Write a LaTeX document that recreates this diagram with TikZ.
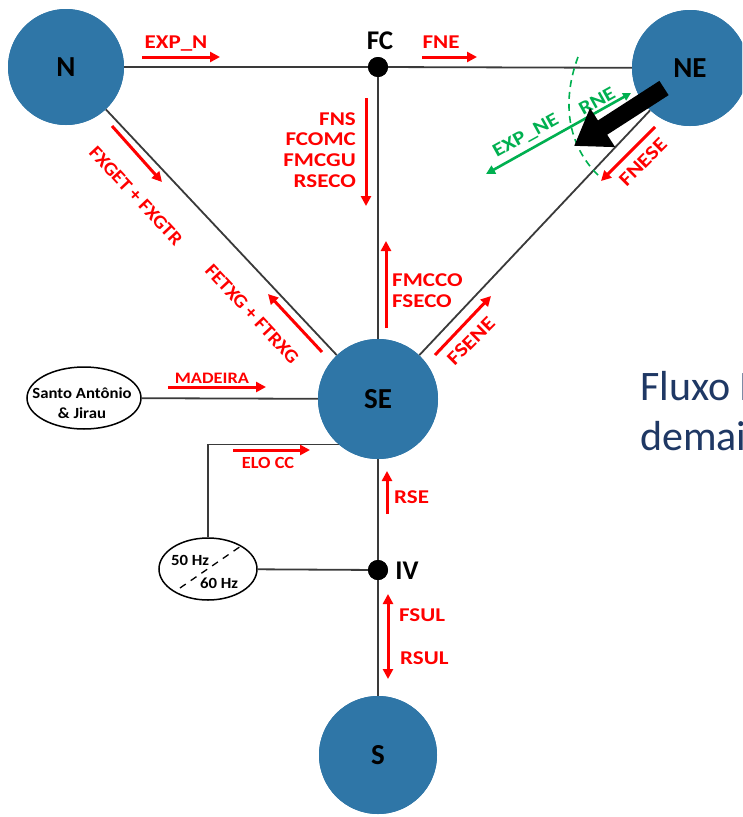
\documentclass[tikz,border=0pt]{standalone}
\usepackage{fontspec}
\setmainfont{Carlito}
\newfontfamily\widefont[FakeStretch=1.18]{Carlito}
\newfontfamily\semiwidefont[FakeStretch=1.08]{Carlito}
\usetikzlibrary{arrows.meta,shapes.geometric,calc}
\definecolor{hubblue}{HTML}{2F76A7}
\definecolor{flowred}{HTML}{FF0000}
\definecolor{flowgreen}{HTML}{00B050}
\definecolor{textblue}{HTML}{1F3864}
\definecolor{wiregray}{HTML}{3A3A3A}
\begin{document}
\begin{tikzpicture}[x=1pt,y=-1pt,
  hub/.style={circle,fill=hubblue,inner sep=0pt,text=black,font=\fontsize{29}{30}\selectfont\bfseries},
  busdot/.style={circle,fill=black,inner sep=0pt,minimum size=20pt},
  buslbl/.style={inner sep=0pt,font=\fontsize{27}{28}\selectfont\bfseries},
  wire/.style={draw=wiregray,line width=1.8pt},
  redarrow/.style={draw=flowred,line width=3pt,-{Triangle[length=10pt,width=10pt]}},
  redboth/.style={draw=flowred,line width=3pt,{Triangle[length=10pt,width=10pt]}-{Triangle[length=10pt,width=10pt]}},
  redlbl/.style={text=flowred,inner sep=0pt,font=\widefont\fontsize{19.5}{20.7}\selectfont\bfseries},
  redlong/.style={text=flowred,inner sep=0pt,font=\semiwidefont\fontsize{19}{20.7}\selectfont\bfseries},
  greenlbl/.style={text=flowgreen,inner sep=0pt,font=\widefont\fontsize{19}{20}\selectfont\bfseries},
  oval/.style={ellipse,draw=black,line width=1.5pt,inner sep=0pt,fill=white},
  ovallbl/.style={inner sep=0pt,font=\semiwidefont\fontsize{15.5}{20}\selectfont\bfseries,align=center}]
\useasboundingbox (0,0) rectangle (742,817);
\clip (0,0) rectangle (742,817);
\fill[white] (0,0) rectangle (742,817);

% hubs, buses and ovals
\node[hub,minimum size=116pt] (N) at (66,67) {};
\node[hub,minimum size=116pt] (NE) at (690,68) {};
\node[hub,minimum size=120pt] (SE) at (378,399) {};
\node[hub,minimum size=118pt] (S) at (378,755) {};
\node[busdot] (FC) at (378,67) {};
\node[busdot] (IV) at (378,570) {};
\node[oval,minimum width=114pt,minimum height=62pt] (SA) at (84,398) {};
\node[oval,minimum width=98pt,minimum height=62pt] (HZ) at (208,569) {};

% wires
\draw[wire] (N) -- (FC);
\draw[wire] (FC) -- (NE);
\draw[wire] (FC) -- (SE);
\draw[wire] (N) -- (SE);
\draw[wire] (NE) -- (SE);
\draw[wire] (SA) -- (SE);
\draw[wire] (SE) -- (IV);
\draw[wire] (IV) -- (S);
\draw[wire] (HZ) -- (IV);
\draw[wire] (HZ.north) |- (SE.229);

% redraw hubs on top of wires
\node[hub,minimum size=116pt] (Nc) at (66,67) {N};
\node[hub,minimum size=116pt] (NEc) at (690,68) {NE};
\node[hub,minimum size=120pt] (SEc) at (378,399) {SE};
\node[hub,minimum size=118pt] (Sc) at (378,755) {S};
\node[busdot] (FCc) at (378,67) {};
\node[busdot] (IVc) at (378,570) {};

% bus labels
\node[buslbl] (FClbl) at (380,41) {FC};
\node[buslbl] (IVlbl) at (407,571) {IV};

% oval texts
\node[ovallbl] (SAtxt) at (82,403) {Santo Antônio\\\& Jirau};
\draw[black,line width=1.3pt,dash pattern=on 7pt off 6pt] (180,588) -- (241,546);
\node[ovallbl] (hz50) at (190,560) {50 Hz};
\node[ovallbl] (hz60) at (219,583) {60 Hz};

% red flows
\draw[redarrow] (142,57) -- (220,57);
\node[redlbl,anchor=base] (expn) at (176,48) {EXP\_N};
\draw[redarrow] (422,57) -- (477,57);
\node[redlbl,anchor=base] (fne) at (441,48) {FNE};
\draw[redarrow] (366,98) -- (366,206);
\node[redlbl,align=right,anchor=east] (fns) at (356,150) {FNS\\FCOMC\\FMCGU\\RSECO};
\draw[redarrow] (386,328) -- (386,241);
\node[redlbl,align=left,anchor=west] (fmcco) at (392,291) {FMCCO\\FSECO};
\draw[redarrow] (112,126) -- (162,182);
\node[redlong,rotate=-47] (fxget) at (136,196) {FXGET + FXGTR};
\draw[redarrow] (322,352) -- (268,294);
\node[redlong,rotate=-47] (fetxg) at (252,314) {FETXG + FTRXG};
\draw[redarrow] (435,355) -- (491,296);
\node[redlbl,rotate=45] (fsene) at (471,341) {FSENE};
\draw[redarrow] (655,127) -- (601,181);
\node[redlbl,rotate=45] (fnese) at (643,162) {FNESE};
\draw[redarrow] (168,387) -- (266,387);
\node[redlbl,font=\fontsize{16}{18}\selectfont\bfseries,xscale=1.15] (madeira) at (212,378) {MADEIRA};
\draw[redarrow] (233,450) -- (310,450);
\node[redlbl,font=\fontsize{17}{18}\selectfont\bfseries,xscale=1.08] (elocc) at (268,463) {ELO CC};
\draw[redarrow] (387,514) -- (387,471);
\node[redlbl,anchor=west] (rse) at (394,497) {RSE};
\draw[redboth] (388,594) -- (388,679);
\node[redlbl,anchor=west] (fsul) at (399,615) {FSUL};
\node[redlbl,anchor=west] (rsul) at (400,658) {RSUL};

% green flows
\draw[flowgreen,line width=1.6pt,dash pattern=on 7pt off 5pt] (578,57) .. controls (562,100) and (566,145) .. (600,177);
\draw[flowgreen,line width=2.6pt,{Triangle[length=9pt,width=9pt]}-{Triangle[length=8pt,width=8pt]}] (486,174) -- (631,93);
\node[greenlbl,rotate=29] (expne) at (526,136) {EXP\_NE};
\node[greenlbl,rotate=29] (rne) at (597,101) {RNE};

% black thick arrow
\draw[black,line width=17pt,-{Triangle[length=34pt,width=44pt]}] (664,88) -- (574,146);

% side text
\node[anchor=base west,inner sep=0pt,text=textblue,font=\fontsize{42}{48}\selectfont] (fl1) at (640,400) {Fluxo I};
\node[anchor=base west,inner sep=0pt,text=textblue,font=\fontsize{42}{48}\selectfont] (fl2) at (640,450) {demai};
\end{tikzpicture}
\end{document}
